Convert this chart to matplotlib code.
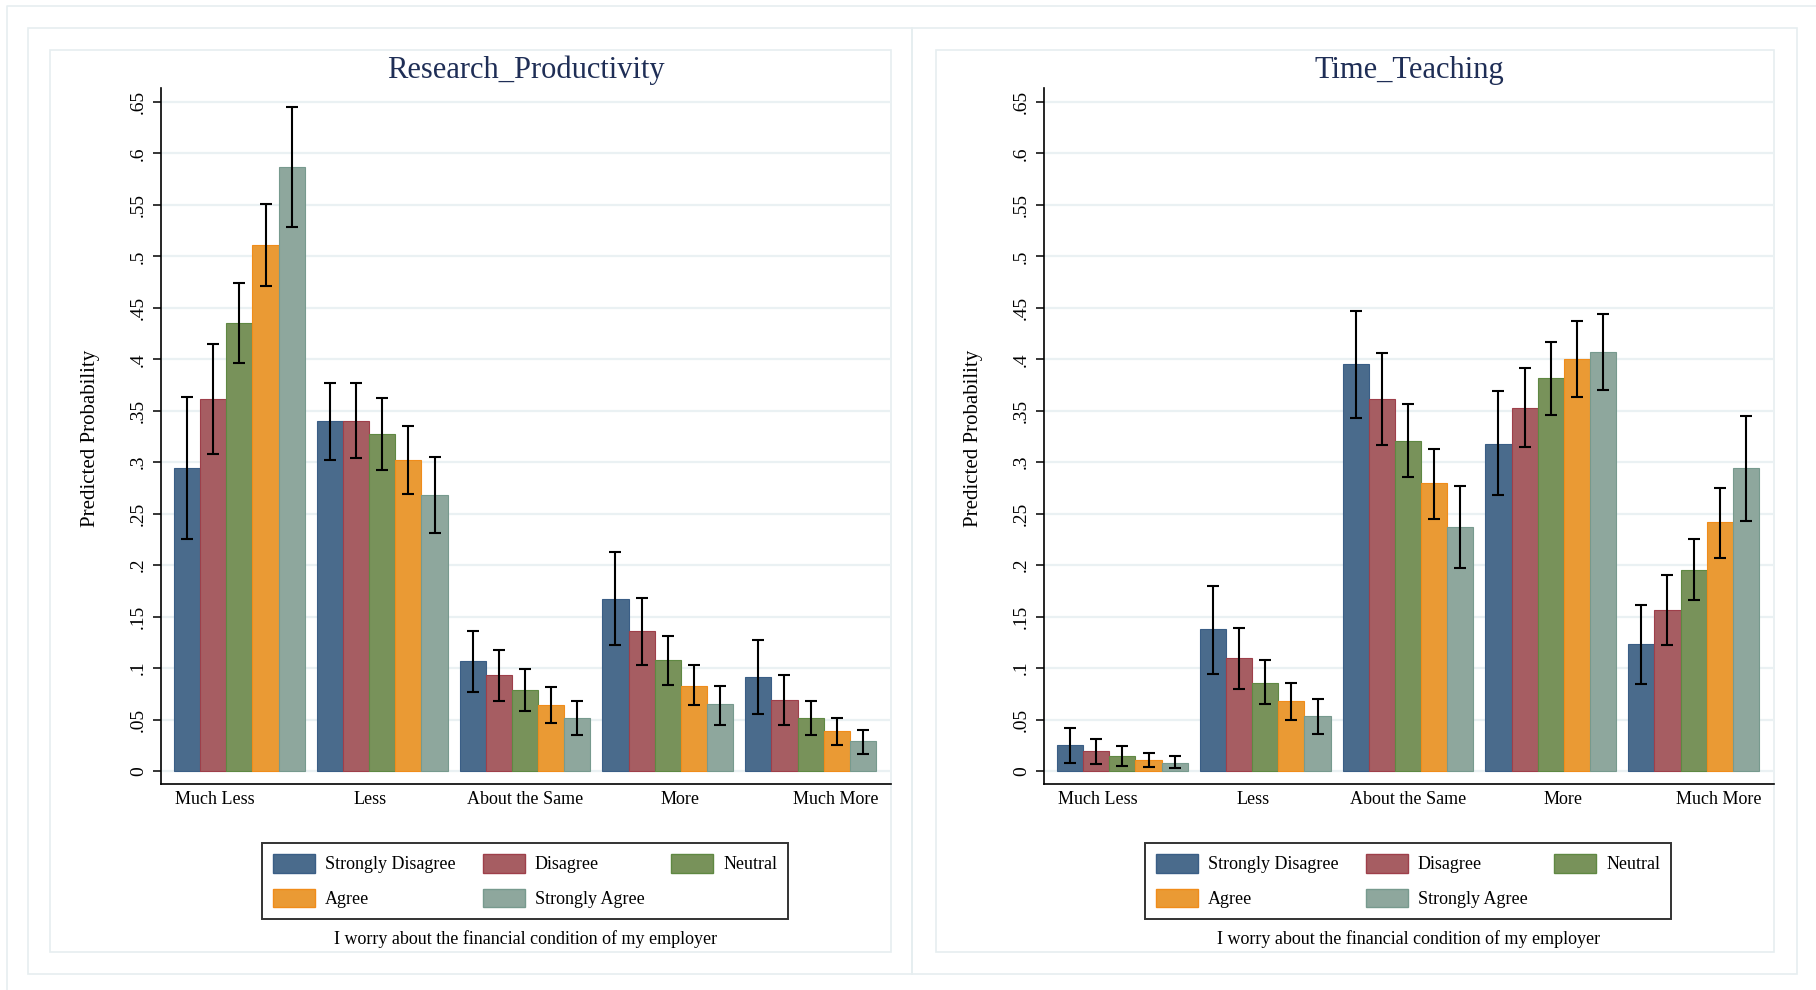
import numpy as np
import matplotlib.pyplot as plt
from matplotlib.patches import Patch, Rectangle

plt.rcParams['font.family'] = ['Liberation Serif', 'DejaVu Serif']

# ---- data ----
categories = ['Much Less', 'Less', 'About the Same', 'More', 'Much More']
groups = ['Strongly Disagree', 'Disagree', 'Neutral', 'Agree', 'Strongly Agree']
titles = ['Research_Productivity', 'Time_Teaching']

# predicted probabilities, rows = category, cols = group
rp_est = [[0.294, 0.361, 0.435, 0.511, 0.587],
          [0.340, 0.340, 0.327, 0.302, 0.268],
          [0.107, 0.093, 0.079, 0.064, 0.052],
          [0.167, 0.136, 0.108, 0.083, 0.065],
          [0.091, 0.069, 0.052, 0.039, 0.029]]
rp_lo = [[0.225, 0.308, 0.396, 0.471, 0.529],
         [0.302, 0.304, 0.292, 0.269, 0.231],
         [0.077, 0.068, 0.058, 0.047, 0.035],
         [0.122, 0.103, 0.084, 0.064, 0.045],
         [0.055, 0.045, 0.035, 0.025, 0.017]]
rp_hi = [[0.363, 0.415, 0.474, 0.551, 0.645],
         [0.377, 0.377, 0.362, 0.335, 0.305],
         [0.136, 0.118, 0.099, 0.082, 0.068],
         [0.213, 0.168, 0.131, 0.103, 0.083],
         [0.127, 0.093, 0.068, 0.052, 0.040]]

tt_est = [[0.025, 0.019, 0.015, 0.011, 0.008],
          [0.138, 0.110, 0.086, 0.068, 0.053],
          [0.395, 0.361, 0.321, 0.280, 0.237],
          [0.318, 0.353, 0.382, 0.400, 0.407],
          [0.123, 0.156, 0.195, 0.242, 0.294]]
tt_lo = [[0.008, 0.007, 0.005, 0.004, 0.003],
         [0.094, 0.080, 0.065, 0.050, 0.036],
         [0.343, 0.317, 0.286, 0.245, 0.197],
         [0.268, 0.315, 0.346, 0.363, 0.370],
         [0.085, 0.122, 0.166, 0.207, 0.243]]
tt_hi = [[0.042, 0.031, 0.024, 0.018, 0.015],
         [0.180, 0.139, 0.108, 0.086, 0.070],
         [0.447, 0.406, 0.357, 0.313, 0.277],
         [0.369, 0.392, 0.417, 0.437, 0.444],
         [0.161, 0.190, 0.225, 0.275, 0.345]]

yticks = np.arange(0, 0.651, 0.05)
caption = 'I worry about the financial condition of my employer'

# ---- style ----
colors = ['#4A6B8C', '#A65D62', '#78925A', '#EA9A34', '#8EA79D']
edges = ['#3A5E86', '#9E3F4A', '#5F8842', '#F08C1A', '#779A8E']
box_col = '#E6EEF0'
grid_col = '#EAF1F3'
title_col = '#1F2E56'

W, H = 1816, 990
fig = plt.figure(figsize=(W / 100, H / 100), dpi=100)
fig.patch.set_facecolor('white')

# background frames (pixel coords)
bg = fig.add_axes([0, 0, 1, 1], zorder=-5)
bg.set_xlim(0, W)
bg.set_ylim(H, 0)
bg.axis('off')
bg.plot([7, 7, W + 5], [H + 5, 6, 6], color=box_col, lw=1.2)
for x0, y0, x1, y1 in [(28, 28, 912, 974), (912, 28, 1797, 974),
                       (50, 50, 891, 952), (936, 50, 1774, 952)]:
    bg.add_patch(Rectangle((x0, y0), x1 - x0, y1 - y0, fill=False,
                           ec=box_col, lw=1.2))


def px_axes(x0, y0, x1, y1):
    return fig.add_axes([x0 / W, 1 - y1 / H, (x1 - x0) / W, (y1 - y0) / H])


bw = 0.1832
label_spread = 1.0875
ax_top, ax_bot = 88, 784
order = [0, 3, 1, 4, 2]


def draw_panel(ax, title, est, lo, hi):
    est = np.array(est)
    lo = np.array(lo)
    hi = np.array(hi)
    xc = np.arange(len(categories))
    ax.set_facecolor('none')
    for j, g in enumerate(groups):
        xs = xc + (j - 2) * bw
        ax.bar(xs, est[:, j], width=bw, color=colors[j], edgecolor=edges[j],
               linewidth=0.8, label=g, zorder=2)
        ax.errorbar(xs, est[:, j], yerr=[est[:, j] - lo[:, j], hi[:, j] - est[:, j]],
                    fmt='none', ecolor='black', elinewidth=1.5, capsize=4.6,
                    capthick=1.5, zorder=3)
    ax.set_xlim(-0.549, 4.563)
    ax.set_ylim(-0.0126, 0.6636)
    ax.set_yticks(yticks)
    ax.set_yticklabels(['0' if v < 1e-9 else ('%.2f' % v).rstrip('0').lstrip('0')
                        for v in yticks], rotation=90, va='center', fontsize=14)
    ax.set_xticks(2 + (xc - 2) * label_spread)
    ax.set_xticklabels(categories, fontsize=13)
    ax.tick_params(axis='x', length=0, pad=5)
    ax.tick_params(axis='y', length=6, width=1.1, pad=4)
    ax.yaxis.grid(True, color=grid_col, lw=1.6)
    ax.set_axisbelow(True)
    for s in ['top', 'right']:
        ax.spines[s].set_visible(False)
    for s in ['left', 'bottom']:
        ax.spines[s].set_linewidth(1.2)
    ax.text(0.5, (ax_bot - 70.5) / (ax_bot - ax_top), title, transform=ax.transAxes,
            ha='center', va='center', fontsize=22, color=title_col)
    ax.text(-0.0966, 0.497, 'Predicted Probability', transform=ax.transAxes,
            rotation=90, ha='center', va='center', fontsize=15)
    handles = [Patch(facecolor=colors[k], edgecolor=edges[k], lw=1) for k in order]
    labels = [groups[k] for k in order]
    leg = ax.legend(handles, labels, ncol=3, loc='upper left',
                    bbox_to_anchor=((262 - 161) / 730, (ax_bot - 843) / (ax_bot - ax_top)),
                    borderaxespad=0, fontsize=13, handlelength=2.33,
                    handleheight=1.22, handletextpad=0.55, columnspacing=1.5,
                    borderpad=0.6, labelspacing=0.85, fancybox=False,
                    framealpha=1, edgecolor='#333333')
    leg.get_frame().set_linewidth(1.4)
    ax.text(0.5, (ax_bot - 939) / (ax_bot - ax_top), caption, transform=ax.transAxes,
            ha='center', va='center', fontsize=13)


ax1 = px_axes(161, ax_top, 891, ax_bot)
draw_panel(ax1, titles[0], rp_est, rp_lo, rp_hi)
ax2 = px_axes(1044, ax_top, 1774, ax_bot)
draw_panel(ax2, titles[1], tt_est, tt_lo, tt_hi)

fig.savefig('out.png', dpi=100)
